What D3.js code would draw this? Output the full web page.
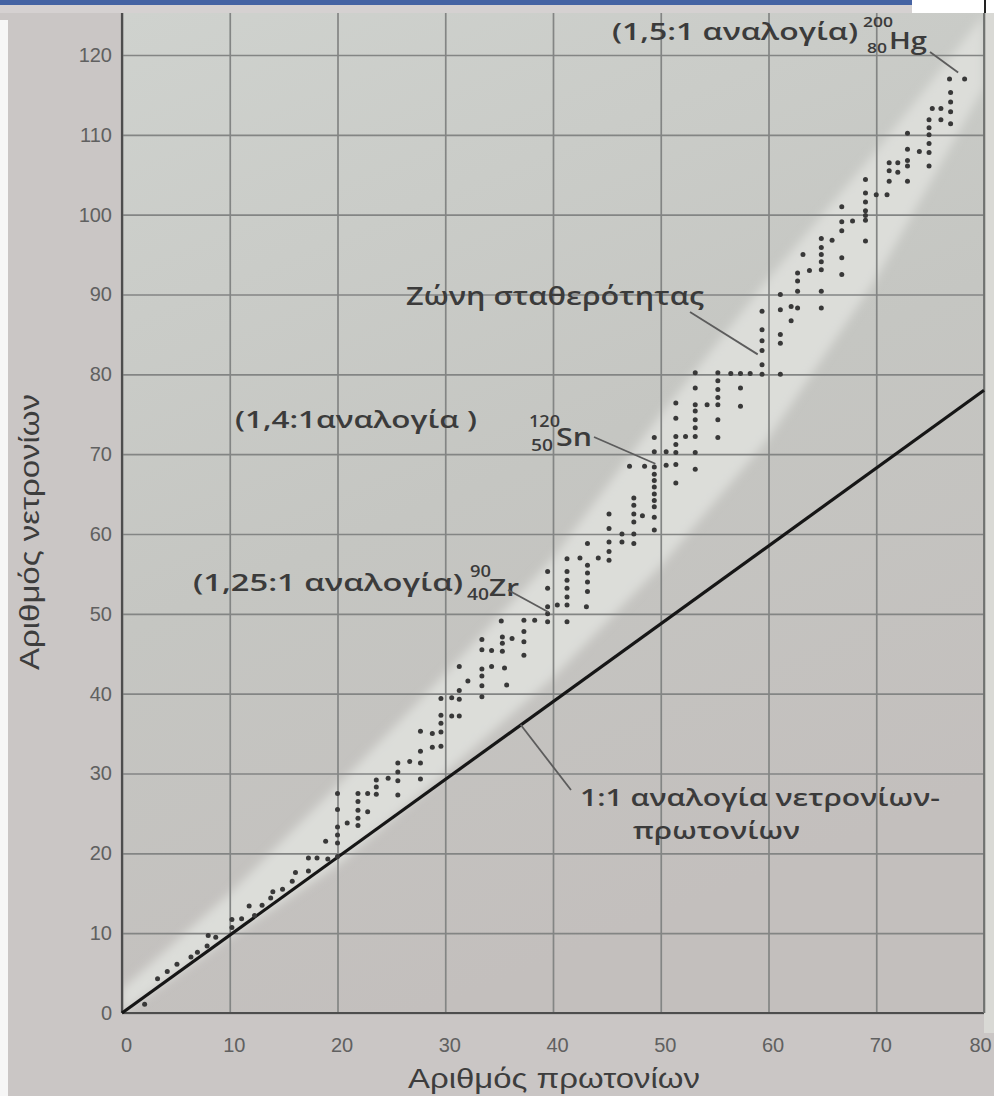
<!DOCTYPE html>
<html>
<head>
<meta charset="utf-8">
<script src="https://cdn.jsdelivr.net/npm/d3@7"></script>
<style>
    html, body { margin: 0; padding: 0; background: #cbc7c6; }
    svg { display: block; }
</style>
</head>
<body>
<div id="chart"></div>
<script>
(function(root){
    var d3 = root.d3;

    var width = 994, height = 1096,
        photoTop = 13;

    var xTicks = [0, 10, 20, 30, 40, 50, 60, 70, 80];
    var yTicks = [0, 10, 20, 30, 40, 50, 60, 70, 80, 90, 100, 110, 120];

    // light "zone of stability" band, lower / upper neutron edge per proton number
    var bandZ     = [0, 10, 20, 30, 40, 50, 60, 70, 80];
    var bandLower = [0, 9.5, 18.5, 30, 42, 56, 72, 92, 116];
    var bandUpper = [3, 15, 28.5, 42.5, 57, 75, 92, 108, 125];

    // the drawn 1:1 line (as printed it ends a little under 80)
    var oneToOne = [[0, 0], [80, 78]];

    // stable nuclei: [protons, neutrons]
    var nuclei = [
        [2.1,1.1],[3.3,4.3],[4.2,5.2],[5.1,6.1],[6.4,7.0],[7.0,7.6],[7.9,8.4],[8.0,9.7],[8.7,9.5],
        [10.2,10.7],[10.2,11.7],[11.1,11.8],[11.8,13.4],[12.3,12.2],[13.0,13.5],[13.8,14.4],[14.0,15.2],
        [14.9,15.5],[15.8,16.5],[16.1,17.6],[17.3,17.8],[17.3,19.4],[18.1,19.4],[19.1,19.3],[18.9,21.5],
        [20.0,19.6],[20.0,21.3],[20.0,22.3],[20.0,23.3],[20.0,25.5],[20.0,27.5],
        [20.9,23.8],
        [21.9,23.5],[21.9,24.4],[21.9,25.4],[21.9,26.5],[21.9,27.5],
        [22.8,25.2],[22.8,27.5],
        [23.6,27.4],[23.6,28.3],[23.6,29.2],
        [24.7,29.4],
        [25.6,27.3],[25.6,29.1],[25.6,30.2],[25.6,31.3],
        [26.7,31.5],
        [27.7,29.3],[27.7,31.3],[27.7,32.8],[27.7,35.3],
        [28.8,33.3],[28.8,35.0],
        [29.6,33.4],[29.6,35.2],[29.6,36.3],[29.6,37.3],[29.6,39.4],
        [30.6,37.2],[30.6,39.5],
        [31.3,37.2],[31.3,39.3],[31.3,40.4],[31.3,43.4],
        [32.1,41.6],
        [33.4,39.6],[33.4,41.0],[33.4,42.2],[33.4,43.1],[33.4,45.5],[33.4,46.8],
        [34.3,43.4],[34.3,45.4],
        [35.3,45.3],[35.3,46.3],[35.3,47.1],[35.2,49.1],[35.5,43.2],[35.7,41.1],
        [36.2,46.9],
        [37.3,44.8],[37.3,46.5],[37.3,47.8],[37.3,49.2],
        [38.3,49.2],
        [39.5,49.0],[39.5,50.0],[39.5,50.9],[39.5,53.2],[39.5,55.3],
        [40.4,51.1],
        [41.3,49.0],[41.3,51.1],[41.3,52.1],[41.3,53.2],[41.3,54.2],[41.3,55.3],[41.3,56.9],
        [42.5,57.0],
        [43.1,50.9],[43.2,52.8],[43.2,54.0],[43.2,55.1],[43.2,56.1],[43.2,58.8],
        [44.2,57.0],
        [45.2,56.7],[45.2,57.8],[45.2,59.0],[45.2,60.7],[45.2,62.5],
        [46.4,59.0],[46.4,60.0],
        [47.5,58.8],[47.5,60.0],[47.5,61.5],[47.5,62.5],[47.5,63.6],[47.5,64.5],
        [47.1,68.5],[48.3,62.3],[48.5,68.5],
        [49.4,60.5],[49.4,62.1],[49.4,63.4],[49.4,64.2],[49.4,65.0],[49.4,65.9],[49.4,66.7],
        [49.4,67.5],[49.4,68.4],[49.4,70.3],[49.4,72.1],
        [50.5,68.6],[50.5,70.3],
        [51.4,66.4],[51.4,68.7],[51.4,70.2],[51.4,71.2],[51.4,72.2],[51.4,74.5],[51.4,76.4],
        [52.3,72.2],
        [53.2,68.1],[53.2,70.2],[53.2,72.2],[53.2,73.3],[53.2,74.3],[53.2,75.4],[53.2,76.2],[53.2,78.3],[53.2,80.2],
        [54.3,76.2],
        [55.3,72.1],[55.3,74.3],[55.3,76.2],[55.3,77.1],[55.3,78.1],[55.3,79.2],[55.3,80.2],
        [56.5,80.1],
        [57.4,76.0],[57.4,78.3],[57.4,80.1],
        [58.3,80.1],
        [59.4,80.0],[59.4,81.2],[59.4,83.0],[59.4,84.2],[59.4,85.6],[59.4,87.9],
        [61.1,80.0],[61.1,83.9],[61.1,85.0],[61.1,88.1],[61.1,90.0],
        [62.1,86.7],[62.1,88.5],
        [62.7,88.3],[62.7,90.4],[62.7,91.7],[62.7,92.7],
        [63.2,95.0],[63.8,93.0],
        [64.9,88.3],[64.9,90.4],[64.9,93.1],[64.9,94.1],[64.9,95.0],[64.9,95.9],[64.9,97.0],
        [65.9,96.8],
        [66.8,92.5],[66.8,94.6],[66.8,98.0],[66.8,99.1],[66.8,101.0],
        [67.8,99.2],
        [69.0,96.7],[69.0,99.3],[69.0,99.9],[69.0,100.5],[69.0,101.6],[69.0,102.7],[69.0,104.4],
        [70.0,102.5],[71.0,102.5],
        [71.2,104.2],[71.2,105.5],[71.2,106.5],
        [72.0,105.3],[72.0,106.5],
        [72.9,104.2],[72.9,106.1],[72.9,106.8],[72.9,108.2],[72.9,110.2],
        [74.0,107.9],
        [74.9,106.1],[74.9,107.8],[74.9,108.9],[74.9,110.0],[74.9,110.9],[74.9,111.9],
        [75.2,113.3],[76.0,113.3],[76.0,111.9],
        [76.9,111.4],[76.9,112.9],[76.9,114.1],[76.9,115.3],
        [76.8,117.0],[78.2,117.0]
    ];

    var x = d3.scaleLinear().domain([0, 80]).range([122, 984]);
    var y = d3.scaleLinear().domain([0, 120]).range([1013, 55]);

    var svg = d3.select("#chart").append("svg")
        .attr("width", width)
        .attr("height", height);

    var defs = svg.append("defs");

    var grad = defs.append("linearGradient")
        .attr("id", "paper")
        .attr("x1", 0).attr("y1", 0).attr("x2", 0.35).attr("y2", 1);
    grad.append("stop").attr("offset", "0%").attr("stop-color", "#cfd2ce");
    grad.append("stop").attr("offset", "55%").attr("stop-color", "#c5c6c2");
    grad.append("stop").attr("offset", "100%").attr("stop-color", "#c3bfbd");

    defs.append("filter").attr("id", "soft")
        .attr("x", "-10%").attr("y", "-10%").attr("width", "120%").attr("height", "120%")
        .append("feGaussianBlur").attr("stdDeviation", 5);

    defs.append("clipPath").attr("id", "plotclip")
        .append("rect")
        .attr("x", x(0)).attr("y", photoTop)
        .attr("width", x(80) - x(0)).attr("height", y(0) - photoTop);

    // photo / screenshot surroundings
    svg.append("rect").attr("width", width).attr("height", height).attr("fill", "#cac6c5");
    svg.append("rect").attr("x", x(80)).attr("y", photoTop)
        .attr("width", width - x(80)).attr("height", y(0) + 20 - photoTop)
        .attr("fill", "#d9d9d5");
    svg.append("rect").attr("x", 0).attr("y", 0).attr("width", width).attr("height", photoTop)
        .attr("fill", "#d5d1d1");
    svg.append("rect").attr("x", 0).attr("y", 0).attr("width", 912).attr("height", 5)
        .attr("fill", "#4563a3");
    svg.append("rect").attr("x", 912).attr("y", 0).attr("width", width - 912).attr("height", photoTop)
        .attr("fill", "#ffffff");
    svg.append("line").attr("x1", 985).attr("x2", 985).attr("y1", 0).attr("y2", photoTop)
        .attr("stroke", "#222").attr("stroke-width", 2);
    svg.append("rect").attr("x", 0).attr("y", 20).attr("width", 8).attr("height", height - 20)
        .attr("fill", "#f6f6f6");

    // plot paper
    svg.append("rect")
        .attr("x", x(0)).attr("y", photoTop)
        .attr("width", x(80) - x(0)).attr("height", y(0) - photoTop)
        .attr("fill", "url(#paper)");

    // band of stability
    var bandPts = bandZ.map(function(z, i){ return [z, bandUpper[i]]; })
        .concat(bandZ.map(function(z, i){ return [z, bandLower[i]]; }).reverse());

    svg.append("g").attr("clip-path", "url(#plotclip)")
        .append("path")
        .datum(bandPts)
        .attr("d", d3.line().x(function(d){ return x(d[0]); }).y(function(d){ return y(d[1]); }))
        .attr("fill", "#dcddd9")
        .attr("filter", "url(#soft)");

    // grid + axes
    var gx = svg.append("g")
        .attr("transform", "translate(0," + y(0) + ")")
        .call(d3.axisBottom(x).tickValues(xTicks).tickSize(-(y(0) - photoTop)).tickPadding(25));
    gx.select(".domain").remove();
    gx.selectAll(".tick line").attr("stroke", "#838584").attr("stroke-width", 1.7);
    gx.selectAll(".tick text")
        .attr("fill", "#606060")
        .style("font-family", "'Liberation Sans', Arial, sans-serif")
        .style("font-size", "20px")
        .attr("dx", function(d){ return d === 80 ? -4 : 4; });

    var gy = svg.append("g")
        .attr("transform", "translate(" + x(0) + ",0)")
        .call(d3.axisLeft(y).tickValues(yTicks).tickSize(-(x(80) - x(0))).tickPadding(10));
    gy.select(".domain").remove();
    gy.selectAll(".tick line").attr("stroke", "#838584").attr("stroke-width", 1.7);
    gy.selectAll(".tick text")
        .attr("fill", "#606060")
        .style("font-family", "'Liberation Sans', Arial, sans-serif")
        .style("font-size", "20px");

    // frame: left and bottom axis lines, right edge
    svg.append("line").attr("x1", x(0)).attr("x2", x(0)).attr("y1", photoTop).attr("y2", y(0))
        .attr("stroke", "#4d4d4d").attr("stroke-width", 2.2);
    svg.append("line").attr("x1", x(0)).attr("x2", x(80)).attr("y1", y(0)).attr("y2", y(0))
        .attr("stroke", "#4d4d4d").attr("stroke-width", 2.2);
    svg.append("line").attr("x1", x(80)).attr("x2", x(80)).attr("y1", photoTop).attr("y2", y(0))
        .attr("stroke", "#6f716f").attr("stroke-width", 1.8);

    // 1:1 line
    svg.append("path")
        .datum(oneToOne)
        .attr("d", d3.line().x(function(d){ return x(d[0]); }).y(function(d){ return y(d[1]); }))
        .attr("stroke", "#161616")
        .attr("stroke-width", 3.2)
        .attr("fill", "none");

    // nuclei
    svg.append("g").selectAll("circle")
        .data(nuclei)
        .enter().append("circle")
        .attr("cx", function(d){ return x(d[0]); })
        .attr("cy", function(d){ return y(d[1]); })
        .attr("r", 2.5)
        .attr("fill", "#383838");

    // annotations
    var notes = svg.append("g")
        .attr("fill", "#3b3b3b")
        .style("font-family", "'Open Sans', 'Noto Sans', sans-serif")
        .style("font-weight", 600);

    function addText(str, px, py, size, len){
        notes.append("text")
            .attr("x", px).attr("y", py)
            .attr("textLength", len)
            .attr("lengthAdjust", "spacingAndGlyphs")
            .style("font-size", size + "px")
            .text(str);
    }

    function leader(px, py, z, n){
        svg.append("line")
            .attr("x1", px).attr("y1", py)
            .attr("x2", x(z)).attr("y2", y(n))
            .attr("stroke", "#5c5c5c")
            .attr("stroke-width", 1.8);
    }

    addText("(1,5:1 αναλογία)", 612, 40, 23, 246);
    addText("200", 863, 27, 15, 30);
    addText("80", 867, 53, 15, 20);
    addText("Hg", 889, 49, 23, 38);
    leader(930, 52, 77.6, 117.8);

    addText("Ζώνη σταθερότητας", 406, 305, 25, 298);
    leader(690, 312, 59, 82.5);

    addText("(1,4:1αναλογία )", 235, 428, 23, 242);

    addText("120", 529, 427, 16, 31);
    addText("50", 531, 451, 16, 22);
    addText("Sn", 556, 446, 26, 36);
    leader(594, 437, 49.5, 68.8);

    addText("(1,25:1 αναλογία)", 193, 591, 24, 270);
    addText("90", 470, 577, 16, 21);
    addText("40", 467, 600, 16, 22);
    addText("Zr", 489, 596, 24, 30);
    leader(508, 590, 39.6, 50.2);

    addText("1:1 αναλογία νετρονίων-", 580, 806, 23, 360);
    addText("πρωτονίων", 633, 839, 23, 167);
    leader(571, 790, 37, 36.1);

    // axis titles
    svg.append("text")
        .attr("x", 554).attr("y", 1088)
        .attr("text-anchor", "middle")
        .attr("textLength", 292)
        .attr("lengthAdjust", "spacingAndGlyphs")
        .attr("fill", "#3d3d3d")
        .style("font-family", "'Liberation Sans Narrow', 'Liberation Sans', sans-serif")
        .style("font-size", "27px")
        .text("Αριθμός πρωτονίων");

    svg.append("text")
        .attr("transform", "translate(39,532) rotate(-90)")
        .attr("text-anchor", "middle")
        .attr("textLength", 276)
        .attr("lengthAdjust", "spacingAndGlyphs")
        .attr("fill", "#3d3d3d")
        .style("font-family", "'Liberation Sans Narrow', 'Liberation Sans', sans-serif")
        .style("font-size", "27px")
        .text("Αριθμός νετρονίων");
}(this));
</script>
</body>
</html>
